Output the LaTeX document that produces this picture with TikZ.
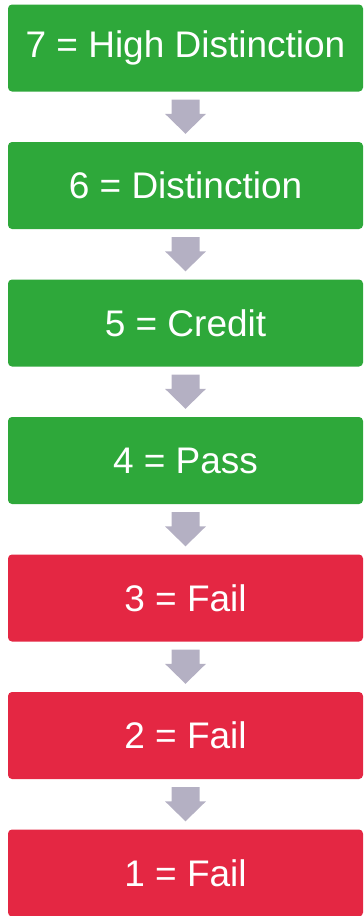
\documentclass[tikz,border=0pt]{standalone}
\usepackage{fontspec}
\setmainfont{Liberation Sans}
\usetikzlibrary{calc}
\definecolor{passgreen}{HTML}{2EA83A}
\definecolor{failred}{HTML}{E42743}
\definecolor{arrowgrey}{HTML}{B4B0C3}
\def\gradearrow(#1)(#2){\fill[arrowgrey] ($(#1.south)+(-14,8)$) -- ($(#1.south)+(14,8)$) -- ($(#2.north)+(14,-28)$) -- ($(#2.north)+(20.5,-28)$) -- ($(#2.north)+(0,-8)$) -- ($(#2.north)+(-20.5,-28)$) -- ($(#2.north)+(-14,-28)$) -- cycle;}

\begin{document}
\begin{tikzpicture}[x=1pt, y=-1pt,
	grade/.style={rounded corners=4pt, minimum width=355pt, minimum height=87pt, inner sep=0pt, text=white, font=\fontsize{37}{40}\selectfont}]
			%%%%% START %%%%%
			
			\useasboundingbox (0, 0) rectangle (364, 916);
			
			\node[grade, fill=passgreen] (seven) at (185.5, 48) {7 = High Distinction};
			\node[grade, fill=passgreen] (six) at (185.5, 185.5) {6 = Distinction};
			\node[grade, fill=passgreen] (five) at (185.5, 323) {5 = Credit};
			\node[grade, fill=passgreen] (four) at (185.5, 460.5) {4 = Pass};
			
			\node[grade, fill=failred] (three) at (185.5, 598) {3 = Fail};
			\node[grade, fill=failred] (two) at (185.5, 735.5) {2 = Fail};
			\node[grade, fill=failred] (one) at (185.5, 873) {1 = Fail};
			
			\gradearrow(seven)(six)
			\gradearrow(six)(five)
			\gradearrow(five)(four)
			\gradearrow(four)(three)
			\gradearrow(three)(two)
			\gradearrow(two)(one)
			
			%%%%% END %%%%%
\end{tikzpicture}
\end{document}
